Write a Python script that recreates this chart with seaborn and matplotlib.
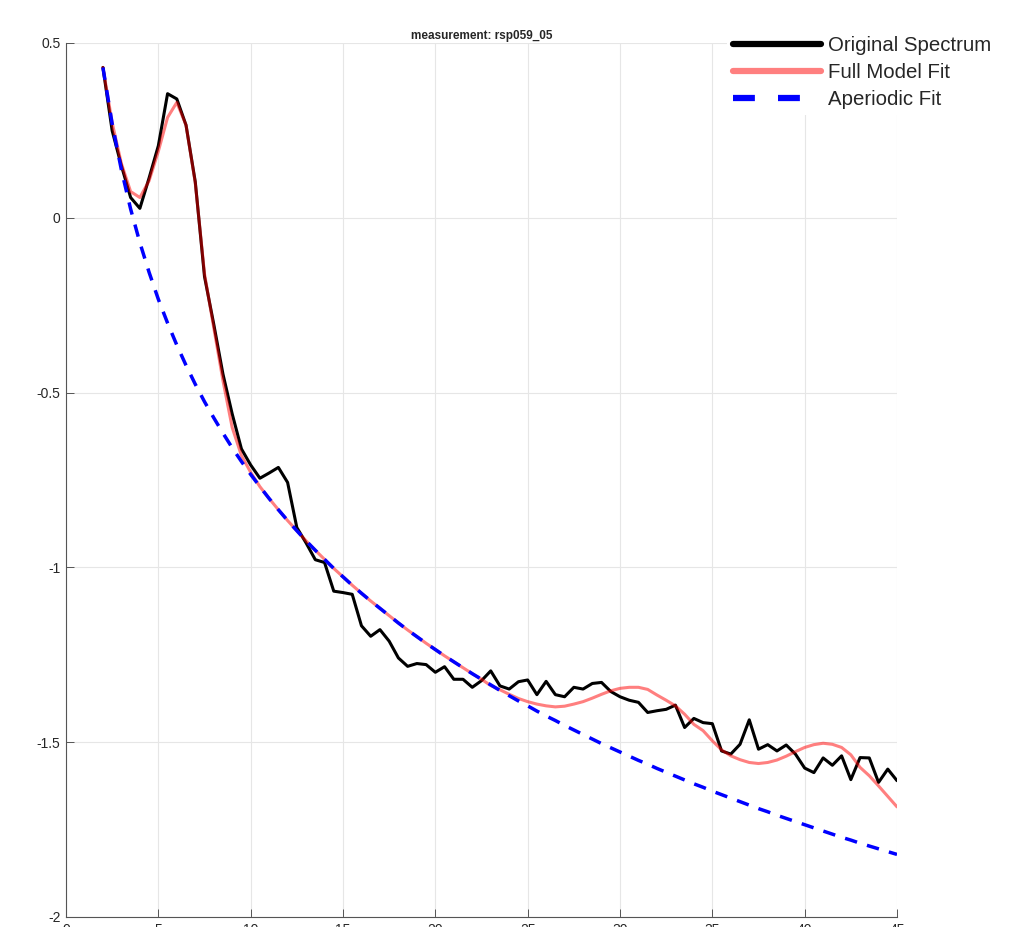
"""Spectrum vs. model fit plot for measurement rsp059_05."""

from __future__ import annotations

import matplotlib

matplotlib.use("Agg")
import matplotlib.pyplot as plt
import numpy as np
import pandas as pd
import seaborn as sns
from matplotlib.ticker import FuncFormatter


TITLE = "measurement: rsp059_05"

# frequency axis: 2 to 45 Hz in 0.5 Hz steps
FREQS = np.arange(2.0, 45.5, 0.5)

ORIGINAL_SPECTRUM = [
    0.430, 0.249, 0.149, 0.058, 0.027, 0.114, 0.206, 0.355, 0.340, 0.265,
    0.103, -0.168, -0.304, -0.447, -0.561, -0.661, -0.707, -0.745, -0.730, -0.714,
    -0.757, -0.886, -0.930, -0.978, -0.986, -1.068, -1.072, -1.077, -1.167, -1.197,
    -1.178, -1.211, -1.259, -1.283, -1.275, -1.278, -1.300, -1.284, -1.320, -1.320,
    -1.343, -1.324, -1.296, -1.339, -1.348, -1.327, -1.322, -1.364, -1.326, -1.364,
    -1.370, -1.343, -1.348, -1.332, -1.329, -1.355, -1.370, -1.380, -1.386, -1.415,
    -1.410, -1.406, -1.394, -1.458, -1.432, -1.444, -1.447, -1.525, -1.534, -1.506,
    -1.436, -1.520, -1.507, -1.525, -1.508, -1.534, -1.574, -1.587, -1.545, -1.566,
    -1.539, -1.607, -1.544, -1.545, -1.615, -1.577, -1.610,
]

FULL_MODEL_FIT = [
    0.430, 0.272, 0.155, 0.075, 0.058, 0.106, 0.190, 0.287, 0.330, 0.265,
    0.100, -0.160, -0.314, -0.466, -0.600, -0.680, -0.728, -0.769, -0.803, -0.835,
    -0.866, -0.895, -0.924, -0.951, -0.977, -1.003, -1.027, -1.051, -1.074, -1.096,
    -1.117, -1.138, -1.159, -1.179, -1.198, -1.217, -1.235, -1.253, -1.270, -1.287,
    -1.304, -1.320, -1.338, -1.350, -1.363, -1.375, -1.384, -1.391, -1.396, -1.399,
    -1.397, -1.391, -1.384, -1.374, -1.363, -1.353, -1.346, -1.343, -1.343, -1.349,
    -1.365, -1.380, -1.396, -1.420, -1.449, -1.467, -1.496, -1.522, -1.539, -1.550,
    -1.558, -1.561, -1.558, -1.551, -1.540, -1.527, -1.515, -1.507, -1.503, -1.506,
    -1.515, -1.536, -1.572, -1.596, -1.625, -1.655, -1.685,
]

APERIODIC_FIT = [
    0.430, 0.269, 0.137, 0.025, -0.071, -0.156, -0.233, -0.301, -0.364, -0.422,
    -0.476, -0.526, -0.572, -0.616, -0.658, -0.697, -0.734, -0.769, -0.803, -0.835,
    -0.866, -0.895, -0.924, -0.951, -0.977, -1.003, -1.027, -1.051, -1.074, -1.096,
    -1.117, -1.138, -1.159, -1.179, -1.198, -1.217, -1.235, -1.253, -1.270, -1.287,
    -1.304, -1.320, -1.336, -1.352, -1.367, -1.382, -1.396, -1.411, -1.425, -1.438,
    -1.452, -1.465, -1.478, -1.491, -1.504, -1.516, -1.528, -1.540, -1.552, -1.563,
    -1.575, -1.586, -1.597, -1.608, -1.619, -1.629, -1.640, -1.650, -1.660, -1.670,
    -1.680, -1.690, -1.699, -1.709, -1.718, -1.727, -1.736, -1.745, -1.754, -1.763,
    -1.772, -1.780, -1.789, -1.797, -1.805, -1.813, -1.821,
]

X_TICKS = [0, 5, 10, 15, 20, 25, 30, 35, 40, 45]
Y_TICKS = [-2, -1.5, -1, -0.5, 0, 0.5]


def main() -> None:
    sns.set_style("whitegrid")
    plt.rcParams["font.family"] = ["Liberation Sans", "DejaVu Sans"]
    plt.rcParams["axes.unicode_minus"] = False

    df = pd.DataFrame(
        {
            "freq": FREQS,
            "original": ORIGINAL_SPECTRUM,
            "full": FULL_MODEL_FIT,
            "aperiodic": APERIODIC_FIT,
        }
    )

    fig = plt.figure(figsize=(10.13, 9.27), dpi=100)
    ax = fig.add_axes([66 / 1013, 1 - 917 / 927, 831 / 1013, 874 / 927])

    sns.lineplot(data=df, x="freq", y="original", ax=ax, color="black",
                 linewidth=2.2, label="Original Spectrum")
    sns.lineplot(data=df, x="freq", y="full", ax=ax, color="red", alpha=0.5,
                 linewidth=2.2, label="Full Model Fit")
    sns.lineplot(data=df, x="freq", y="aperiodic", ax=ax, color="blue",
                 linewidth=2.5, dashes=False, label="Aperiodic Fit")
    ax.lines[-1].set_dashes((3.6, 3.0))

    ax.set_xlim(0, 45)
    ax.set_ylim(-2, 0.5)
    ax.set_xticks(X_TICKS)
    ax.set_yticks(Y_TICKS)
    ax.yaxis.set_major_formatter(FuncFormatter(lambda v, _: f"{v:g}"))
    ax.set_xlabel("")
    ax.set_ylabel("")
    ax.grid(True, color="#e6e6e6", linewidth=0.8)
    ax.set_axisbelow(True)

    for side in ("top", "right"):
        ax.spines[side].set_visible(False)
    for side in ("left", "bottom"):
        ax.spines[side].set_color("#555555")
        ax.spines[side].set_linewidth(0.8)
    ax.tick_params(direction="in", length=6, width=0.7, color="#555555",
                   labelsize=10, labelcolor="#262626", pad=4,
                   left=True, bottom=True)

    ax.set_title(TITLE, fontsize=8.5, fontweight="bold", pad=3)

    handles, labels = ax.get_legend_handles_labels()
    ax.get_legend().remove()
    leg = fig.legend(
        handles, labels,
        loc="upper right",
        bbox_to_anchor=(1008 / 1013, 1 - 20 / 927),
        fontsize=14.7,
        frameon=True,
        facecolor="white",
        edgecolor="none",
        framealpha=1,
        fancybox=False,
        borderpad=0.3,
        handlelength=4.3,
        handletextpad=0.35,
        labelspacing=0.39,
    )
    for line in leg.get_lines():
        line.set_linewidth(4.5)
    leg.get_lines()[-1].set_dashes((3.5, 3.7))

    fig.savefig("out.png", dpi=100)
    plt.close(fig)


if __name__ == "__main__":
    main()
